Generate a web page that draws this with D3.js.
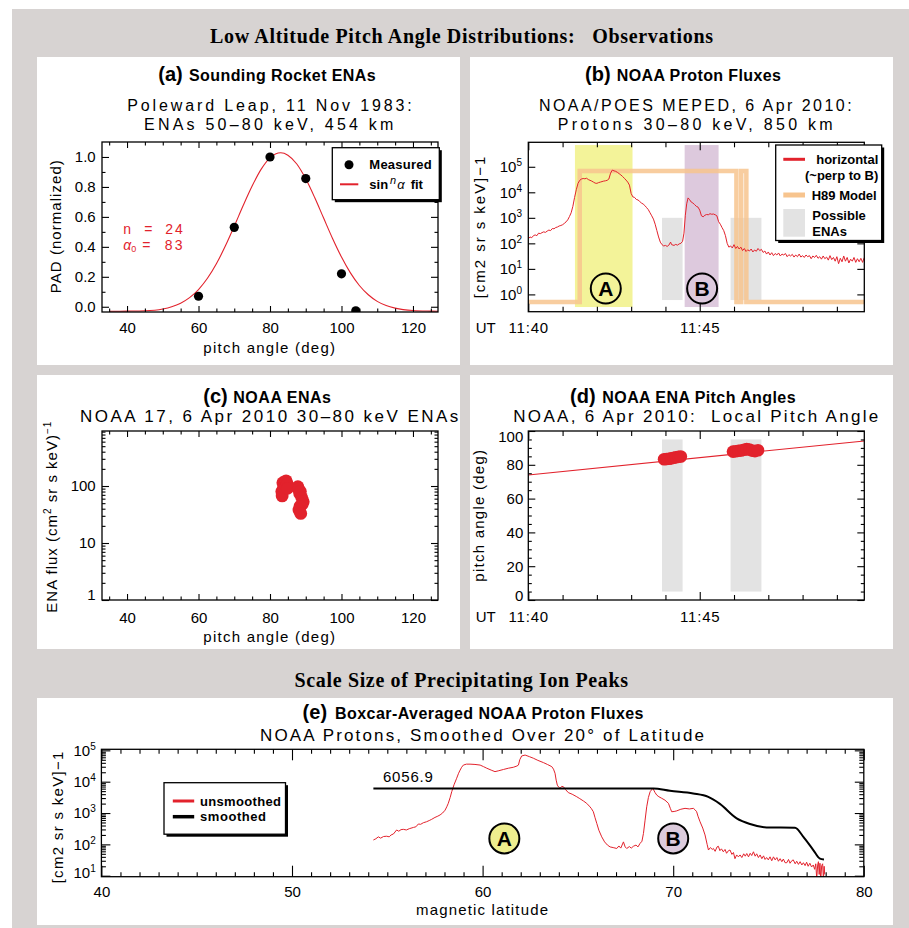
<!DOCTYPE html>
<html>
<head>
<meta charset="utf-8">
<title>Low Altitude Pitch Angle Distributions</title>
<script src="https://cdn.jsdelivr.net/npm/d3@7/dist/d3.min.js"></script>
<style>
  html, body { margin: 0; padding: 0; background: #fff; }
  svg { display: block; }
  text { white-space: pre; }
</style>
</head>
<body>
<svg id="fig" width="909" height="928"></svg>
<script>
// ---------- palette ----------
const SANS = "'Liberation Sans', Arial, Helvetica, sans-serif";
const SERIF = "'Liberation Serif', 'Times New Roman', serif";
const RED = '#e2222c';
const FRAME_BG = '#d7d3d2';
const YELLOW = '#f3f399';
const PURPLE = '#ddc9dd';
const ENA_GRAY = '#e3e3e3';
const H89_COLOR = '#f7c48e';

// ---------- (a) sounding rocket ENAs ----------
const rocketPitch = [60, 70, 80, 90, 100, 104];
const rocketPAD   = [0.07, 0.53, 1.00, 0.856, 0.22, -0.027];
const fitN = 24, fitAlpha0 = 83;
const fitPitch = [35, 40, 45, 50, 52.5, 55, 57.5, 60, 62.5, 65, 67.5, 70, 72.5, 75, 77.5, 80, 83, 85,
                  87.5, 90, 92.5, 95, 97.5, 100, 102.5, 105, 107.5, 110, 112.5, 115, 120, 125, 127];
const fitPAD   = [-0.030, -0.029, -0.027, -0.015, 0.000, 0.024, 0.061, 0.115, 0.190, 0.287, 0.405, 0.538,
                  0.676, 0.806, 0.917, 0.994, 1.028, 1.012, 0.953, 0.854, 0.729, 0.592, 0.456, 0.332,
                  0.226, 0.142, 0.080, 0.036, 0.008, -0.009, -0.025, -0.029, -0.030];
const pitchTicks = [40, 60, 80, 100, 120];
const pitchMinor = [35, 45, 50, 55, 65, 70, 75, 85, 90, 95, 105, 110, 115, 125];
const padTicks = [0, 0.2, 0.4, 0.6, 0.8, 1.0];
const padMinor = [0.1, 0.3, 0.5, 0.7, 0.9];

// ---------- (b) NOAA proton fluxes, minutes after 11:40 UT ----------
const utStart = Date.UTC(2010, 3, 6, 11, 40);
const utTicks = [0, 5];
const utMinor = [1, 2, 3, 4, 6, 7, 8, 9];
const fluxDecades = [1, 10, 100, 1e3, 1e4, 1e5];
const protonFluxB = [
  [0.00,150],[0.05,178],[0.10,166],[0.15,200],[0.20,214],[0.25,200],[0.30,251],[0.35,240],[0.40,263],
  [0.45,282],[0.50,269],[0.55,302],[0.60,331],[0.65,316],[0.70,380],[0.75,372],[0.80,417],[0.85,437],
  [0.90,479],[0.95,501],[1.00,537],[1.05,603],[1.10,692],[1.15,832],[1.20,1120],[1.25,1580],[1.30,2820],
  [1.35,6310],[1.40,12600],[1.45,22400],[1.50,29500],[1.55,33100],[1.60,34700],[1.65,33900],[1.70,35500],
  [1.75,31600],[1.80,29500],[1.85,27500],[1.90,25100],[1.95,22900],[2.00,22400],[2.05,24000],[2.10,25100],
  [2.15,26300],[2.20,27500],[2.25,28200],[2.30,29500],[2.35,33100],[2.40,56200],[2.45,74100],[2.50,69200],
  [2.55,66100],[2.60,60300],[2.65,53700],[2.70,47900],[2.75,41700],[2.80,35500],[2.85,30200],[2.90,25100],
  [2.95,19100],[3.00,8910],[3.05,6610],[3.10,6310],[3.15,5250],[3.20,5010],[3.25,4370],[3.30,3800],
  [3.35,3470],[3.40,3020],[3.45,2510],[3.50,2090],[3.55,1580],[3.60,1200],[3.65,891],[3.70,562],[3.75,316],
  [3.80,178],[3.85,112],[3.90,89],[3.95,79],[4.00,83],[4.05,76],[4.10,85],[4.15,112],[4.18,89],[4.25,83],
  [4.30,91],[4.35,85],[4.40,95],[4.45,100],[4.50,120],[4.54,251],[4.58,1260],[4.62,3550],[4.66,6030],
  [4.70,5250],[4.75,4170],[4.80,3800],[4.85,3310],[4.90,2820],[4.95,2630],[5.00,2000],[5.05,1200],
  [5.10,1100],[5.15,1260],[5.20,1350],[5.25,1320],[5.30,1450],[5.35,1380],[5.40,1410],[5.45,1320],
  [5.50,1200],[5.55,708],[5.60,562],[5.65,417],[5.70,316],[5.75,200],[5.80,100],[5.85,71],[5.90,79],
  [5.95,66],[6.00,89],[6.05,63],[6.10,76],[6.15,60],[6.20,71],[6.25,52],[6.30,63],[6.35,48],[6.40,56],
  [6.45,50],[6.50,60],[6.55,46],[6.60,55],[6.65,49],[6.70,63],[6.75,52],[6.80,58],[6.85,44],[6.90,50],
  [6.95,38],[7.00,46],[7.05,35],[7.10,43],[7.15,33],[7.20,40],[7.25,35],[7.30,42],[7.35,32],[7.40,38],
  [7.45,35],[7.50,40],[7.55,30],[7.60,36],[7.65,32],[7.70,37],[7.75,29],[7.80,35],[7.85,30],[7.90,38],
  [7.95,29],[8.00,33],[8.05,28],[8.10,35],[8.15,30],[8.20,33],[8.25,25],[8.30,32],[8.35,28],[8.40,34],
  [8.45,26],[8.50,30],[8.55,24],[8.60,32],[8.65,25],[8.70,29],[8.75,22],[8.80,33],[8.85,23],[8.90,28],
  [8.95,20],[9.00,30],[9.05,16],[9.10,26],[9.15,19],[9.20,32],[9.25,20],[9.30,28],[9.35,17],[9.40,24],
  [9.45,20],[9.50,28],[9.55,18],[9.60,25],[9.65,19],[9.70,26],[9.75,18],[9.80,28]
];
const h89Time = [0, 1.50, 1.50, 6.07, 6.07, 6.21, 6.21, 6.36, 6.36, 9.8];
const h89Flux = [0.5, 0.5, 6.9e4, 6.9e4, 0.5, 0.5, 6.9e4, 6.9e4, 0.5, 0.5];
const peakNames = ['A', 'B'];
const peakStart = [1.36, 4.56];
const peakEnd   = [3.04, 5.55];
const peakFill  = [YELLOW, PURPLE];
const peakLabelTime = [2.26, 5.07];
const enaWindowStart = [3.90, 5.90];
const enaWindowEnd   = [4.50, 6.80];

// ---------- (c)/(d) NOAA ENA samples ----------
const enaTime  = [3.96, 4.03, 4.10, 4.17, 4.24, 4.31, 4.38, 4.45,
                  5.97, 6.05, 6.13, 6.21, 6.29, 6.37, 6.45, 6.53, 6.61, 6.70];
const enaPitch = [83.3, 83.4, 83.6, 83.8, 84.2, 84.5, 84.8, 84.9,
                  87.8, 88.0, 88.3, 88.5, 88.9, 89.3, 89.0, 88.4, 88.1, 88.6];
const enaFlux  = [80, 67, 114, 95, 105, 123, 110, 91,
                  97, 88, 74, 80, 62, 53, 48, 44, 38, 33];
const enaFluxTicks = [1, 10, 100];
const localPitchTime = [0, 9.8];
const localPitch = [74, 94.1];
const pitchAxisTicks = [0, 20, 40, 60, 80, 100];
const pitchAxisMinor = [5, 10, 15, 25, 30, 35, 45, 50, 55, 65, 70, 75, 85, 90, 95];

// ---------- (e) boxcar-averaged fluxes vs magnetic latitude ----------
const latTicks = [40, 50, 60, 70, 80];
const latMinor = d3.range(41, 80).filter(v => v % 10 !== 0);
const eDecades = [10, 100, 1e3, 1e4, 1e5];
const unsmoothedE = [
  [54.27,138],[54.40,151],[54.53,174],[54.65,158],[54.80,178],[54.97,182],[55.10,174],[55.20,200],
  [55.32,214],[55.49,288],[55.60,263],[55.72,295],[55.84,302],[56.00,288],[56.15,316],[56.37,347],
  [56.50,363],[56.63,447],[56.75,437],[56.89,490],[57.05,525],[57.20,575],[57.33,631],[57.50,724],
  [57.65,794],[57.77,871],[57.90,1000],[58.03,1230],[58.12,1580],[58.20,2040],[58.30,3160],[58.38,4790],
  [58.50,7940],[58.64,12900],[58.74,18600],[58.82,23400],[58.90,28800],[58.99,33900],[59.15,36300],
  [59.34,36300],[59.60,35500],[59.87,33900],[60.05,30200],[60.22,26900],[60.45,23400],[60.65,20900],
  [60.85,22400],[61.09,24500],[61.35,26900],[61.61,28800],[61.80,31600],[61.88,33900],[61.95,50100],
  [62.05,66100],[62.23,70800],[62.45,63100],[62.66,56200],[62.90,47900],[63.19,40700],[63.40,35500],
  [63.63,30200],[63.72,25100],[63.80,18600],[63.86,11200],[63.92,7760],[64.00,6610],[64.06,6170],
  [64.15,7080],[64.24,6920],[64.35,5620],[64.50,4470],[64.70,3980],[64.94,3310],[65.10,2880],
  [65.30,2400],[65.46,2040],[65.60,1660],[65.70,1410],[65.81,1100],[65.90,708],[65.99,468],[66.10,282],
  [66.25,174],[66.40,120],[66.55,95],[66.69,83],[66.85,79],[67.04,74],[67.15,89],[67.25,76],[67.39,120],
  [67.48,83],[67.56,74],[67.70,85],[67.80,76],[67.91,87],[68.05,95],[68.15,83],[68.26,107],[68.36,126],
  [68.44,224],[68.52,562],[68.61,1580],[68.70,3160],[68.79,4790],[68.93,6170],[69.05,4470],[69.14,3720],
  [69.25,3310],[69.40,2950],[69.57,2570],[69.75,2040],[69.85,1410],[69.92,1100],[70.05,1120],[70.18,1170],
  [70.40,1320],[70.62,1410],[70.85,1350],[71.06,1410],[71.15,1260],[71.23,1100],[71.30,794],[71.41,525],
  [71.55,331],[71.67,200],[71.78,100],[71.85,66],[71.95,79],[72.05,69],[72.11,74],[72.20,60],[72.30,83],
  [72.37,87],[72.45,63],[72.53,72],[72.63,58],[72.72,69],[72.80,52],[72.90,63],[72.98,66],[73.08,48],
  [73.16,55],[73.24,35],[73.33,46],[73.42,40],[73.51,46],[73.60,38],[73.70,50],[73.78,42],[73.86,51],
  [73.95,40],[74.04,52],[74.12,44],[74.21,58],[74.30,42],[74.38,50],[74.47,38],[74.56,46],[74.65,35],
  [74.74,43],[74.82,33],[74.90,38],[74.99,32],[75.08,40],[75.17,30],[75.26,40],[75.35,32],[75.44,38],
  [75.52,29],[75.61,35],[75.70,28],[75.78,34],[75.87,26],[75.96,26],[76.05,33],[76.13,25],[76.22,30],
  [76.30,32],[76.40,24],[76.48,29],[76.57,23],[76.66,28],[76.75,22],[76.83,26],[76.92,21],[77.00,27],
  [77.08,20],[77.17,25],[77.26,19],[77.35,22],[77.42,16],[77.48,24],[77.53,8],[77.58,22],[77.62,28],
  [77.66,11],[77.70,25],[77.74,7],[77.79,21],[77.84,24],[77.88,8],[77.92,20],[77.95,11]
];
const smoothedE = [
  [54.27,6056.9],[68.96,6056.9],[69.83,5100],[71.05,4200],[71.84,3260],[72.45,1950],[73.33,676],
  [74.03,447],[74.90,347],[76.39,339],[76.83,174],[77.35,66],[77.70,35],[77.91,33]
];
const peakLabelLat = [61.14, 70.0];

// ---------- helpers ----------
const svg = d3.select('#fig');
const defs = svg.append('defs');

function txt(x, y, s, o = {}) {
  const t = svg.append('text').attr('x', x).attr('y', y)
    .attr('font-family', o.family || SANS).attr('font-size', o.size || 15)
    .attr('font-weight', o.weight || 'normal').attr('fill', o.fill || '#000')
    .attr('text-anchor', o.anchor || 'middle');
  if (o.rot) t.attr('transform', `rotate(-90,${x},${y})`);
  if (o.len) t.attr('textLength', o.len).attr('lengthAdjust', o.adjust || 'spacing');
  if (o.ls) t.attr('letter-spacing', o.ls);
  if (s != null) t.text(s);
  return t;
}

function clipFor(id, x, y) {
  const [x0, x1] = x.range(), [y0, y1] = y.range();
  defs.append('clipPath').attr('id', id).append('rect')
    .attr('x', x0).attr('y', y1).attr('width', x1 - x0).attr('height', y0 - y1);
  return `url(#${id})`;
}

function powLabels(sel) {
  sel.selectAll('.tick text').each(function (d) {
    const e = Math.round(Math.log10(d));
    const t = d3.select(this).text(null);
    t.append('tspan').text('10');
    t.append('tspan').attr('dy', -6).attr('font-size', 10).text(e);
  });
}

// inward ticks on all four sides plus a closed frame
function drawAxes(x, y, o) {
  const [xl, xr] = x.range(), [yb, yt] = y.range();
  const g = svg.append('g');
  function add(axisFn, scale, tr, vals, len, fmt, pad) {
    const a = axisFn(scale).tickValues(vals).tickSize(-len).tickSizeOuter(0)
      .tickPadding(pad || 0).tickFormat(fmt || (() => ''));
    const s = g.append('g').attr('transform', tr).call(a);
    s.select('.domain').remove();
    s.attr('font-family', SANS).attr('font-size', o.labelSize || 15);
    s.selectAll('line').attr('stroke', '#000').attr('stroke-width', 1.1);
    return s;
  }
  if (o.xMinor) {
    add(d3.axisBottom, x, `translate(0,${yb})`, o.xMinor, o.xMinLen);
    add(d3.axisTop, x, `translate(0,${yt})`, o.xMinor, o.xMinLen);
  }
  if (o.yMinor) {
    add(d3.axisLeft, y, `translate(${xl},0)`, o.yMinor, o.yMinLen);
    add(d3.axisRight, y, `translate(${xr},0)`, o.yMinor, o.yMinLen);
  }
  const bx = add(d3.axisBottom, x, `translate(0,${yb})`, o.xMajor, o.xMajLen, o.xFmt, o.xPad);
  add(d3.axisTop, x, `translate(0,${yt})`, o.xMajor, o.xMajLen);
  const ly = add(d3.axisLeft, y, `translate(${xl},0)`, o.yMajor, o.yMajLen, o.yFmt, o.yPad);
  add(d3.axisRight, y, `translate(${xr},0)`, o.yMajor, o.yMajLen);
  g.append('rect').attr('x', xl).attr('y', yt).attr('width', xr - xl).attr('height', yb - yt)
    .attr('fill', 'none').attr('stroke', '#000').attr('stroke-width', 1.3);
  return { bx, ly };
}

function legendBox(x, y, w, h) {
  svg.append('rect').attr('x', x + 2.5).attr('y', y + 2.5).attr('width', w).attr('height', h).attr('fill', '#000');
  svg.append('rect').attr('x', x).attr('y', y).attr('width', w).attr('height', h)
    .attr('fill', '#fff').attr('stroke', '#000').attr('stroke-width', 1.3);
}

function circled(cx, cy, letter, fill) {
  svg.append('circle').attr('cx', cx).attr('cy', cy).attr('r', 15)
    .attr('fill', fill || 'none').attr('stroke', '#000').attr('stroke-width', 2);
  txt(cx, cy + 7.5, letter, { size: 21, weight: 'bold' });
}

const utFmt = d => d3.utcFormat('%H:%M')(new Date(utStart + d * 60000));

// ---------- figure background ----------
svg.append('rect').attr('width', 909).attr('height', 928).attr('fill', '#fff');
svg.append('rect').attr('x', 12).attr('y', 9).attr('width', 897).attr('height', 919).attr('fill', FRAME_BG);
[[37, 57, 423, 308], [470, 57, 423, 308], [37, 375, 423, 274], [470, 375, 423, 274], [37, 698, 856, 227]]
  .forEach(([x, y, w, h]) => svg.append('rect').attr('x', x).attr('y', y).attr('width', w).attr('height', h).attr('fill', '#fff'));

txt(461.5, 43, 'Low Altitude Pitch Angle Distributions:   Observations', { family: SERIF, size: 20, weight: 'bold', len: 503 });
txt(461.3, 686.7, 'Scale Size of Precipitating Ion Peaks', { family: SERIF, size: 20, weight: 'bold', len: 333.5 });

function panelTitle(tag, rest, tagX, restX, restLen, y) {
  txt(tagX, y, tag, { anchor: 'start', size: 20, weight: 'bold' });
  txt(restX, y, rest, { anchor: 'start', size: 16, weight: 'bold', len: restLen });
}

// ================= (a) =================
{
  const x = d3.scaleLinear([33, 127], [102, 438]);
  const y = d3.scaleLinear([-0.035, 1.1], [312, 142]);
  const cp = clipFor('clipA', x, y);
  panelTitle('(a)', 'Sounding Rocket ENAs', 158.3, 189, 186.7, 81);
  txt(269.5, 111.3, 'Poleward Leap, 11 Nov 1983:', { size: 16, len: 284.4 });
  txt(268.7, 130, 'ENAs 50\u201380 keV, 454 km', { size: 16, len: 249.3 });

  const fit = d3.line().x(d => x(d[0])).y(d => y(d[1])).curve(d3.curveMonotoneX);
  svg.append('path').datum(d3.zip(fitPitch, fitPAD)).attr('d', fit).attr('clip-path', cp)
    .attr('fill', 'none').attr('stroke', RED).attr('stroke-width', 1.1);
  svg.append('g').attr('clip-path', cp).selectAll('circle').data(d3.zip(rocketPitch, rocketPAD)).join('circle')
    .attr('cx', d => x(d[0])).attr('cy', d => y(d[1])).attr('r', 4.6).attr('fill', '#000');

  drawAxes(x, y, {
    xMajor: pitchTicks, xMinor: pitchMinor, xMajLen: 6, xMinLen: 3.5, xFmt: d3.format('d'), xPad: 10.6,
    yMajor: padTicks, yMinor: padMinor, yMajLen: 7, yMinLen: 3.5, yFmt: d3.format('.1f'), yPad: 6.3
  });
  txt(269.2, 353, 'pitch angle (deg)', { len: 131.7 });
  txt(61.5, 226.7, 'PAD (normalized)', { rot: true, len: 133 });

  // fit parameters
  txt(123.3, 234, `n  =  ${fitN}`, { anchor: 'start', size: 14, fill: RED, len: 59.4 });
  const a0 = txt(123.3, 249.8, null, { anchor: 'start', size: 14, fill: RED });
  a0.append('tspan').attr('font-style', 'italic').text('\u03b1');
  a0.append('tspan').attr('dy', 2.5).attr('font-size', 9).text('0');
  a0.append('tspan').attr('dy', -2.5).attr('dx', 6).attr('letter-spacing', 2.2).text(`=  ${fitAlpha0}`);

  legendBox(332.3, 147.7, 107, 52);
  svg.append('circle').attr('cx', 349).attr('cy', 164.7).attr('r', 4.5).attr('fill', '#000');
  txt(369.3, 169.3, 'Measured', { anchor: 'start', size: 13, weight: 'bold', len: 62.4 });
  svg.append('line').attr('x1', 340).attr('x2', 358.3).attr('y1', 184.3).attr('y2', 184.3)
    .attr('stroke', RED).attr('stroke-width', 2);
  const s = txt(369.3, 188.6, null, { anchor: 'start', size: 13, weight: 'bold' });
  s.append('tspan').text('sin');
  s.append('tspan').attr('dx', 2).attr('dy', -5).attr('font-size', 11).attr('font-style', 'italic').attr('font-weight', 'normal').text('n');
  s.append('tspan').attr('dx', 1).attr('dy', 5).attr('font-style', 'italic').attr('font-weight', 'normal').text('\u03b1');
  s.append('tspan').attr('dx', 6).text('fit');
}

// ================= (b) =================
{
  const x = d3.scaleLinear([0, 9.8], [528.3, 864.3]);
  const y = d3.scaleLog([0.21, 9.1e5], [311.7, 142.3]);
  const cp = clipFor('clipB', x, y);
  panelTitle('(b)', 'NOAA Proton Fluxes', 585, 616.7, 164.3, 81);
  txt(695.3, 111.3, 'NOAA/POES MEPED, 6 Apr 2010:', { size: 16, len: 312.7 });
  txt(695.2, 130, 'Protons 30\u201380 keV, 850 km', { size: 16, len: 275 });

  const g = svg.append('g').attr('clip-path', cp);
  peakNames.forEach((nm, i) => {
    g.append('rect').attr('x', x(peakStart[i])).attr('width', x(peakEnd[i]) - x(peakStart[i]))
      .attr('y', y(7.1e5)).attr('height', y(0.32) - y(7.1e5)).attr('fill', peakFill[i]);
  });
  enaWindowStart.forEach((t0, i) => {
    g.append('rect').attr('x', x(t0)).attr('width', x(enaWindowEnd[i]) - x(t0))
      .attr('y', y(1000)).attr('height', y(0.6) - y(1000)).attr('fill', ENA_GRAY);
  });
  const ln = d3.line().x(d => x(d[0])).y(d => y(d[1]));
  g.append('path').datum(d3.zip(h89Time, h89Flux)).attr('d', ln)
    .attr('fill', 'none').attr('stroke', H89_COLOR).attr('stroke-opacity', 0.85).attr('stroke-width', 4.5);
  g.append('path').datum(protonFluxB).attr('d', ln)
    .attr('fill', 'none').attr('stroke', RED).attr('stroke-width', 1);

  const ax = drawAxes(x, y, {
    xMajor: utTicks, xMinor: utMinor, xMajLen: 8, xMinLen: 5, xFmt: utFmt, xPad: 11,
    yMajor: fluxDecades, yMajLen: 7, yFmt: d => d, yPad: 6.3
  });
  powLabels(ax.ly);
  ax.bx.selectAll('.tick text').attr('letter-spacing', 0.8);
  txt(475.7, 333.3, 'UT', { anchor: 'start' });
  txt(485, 227.5, '[cm2 sr s keV]\u22121', { rot: true, len: 141.7 });

  peakNames.forEach((nm, i) => circled(x(peakLabelTime[i]), y(1.7), nm));

  legendBox(775.7, 145, 106, 95.5);
  svg.append('line').attr('x1', 783.3).attr('x2', 805).attr('y1', 159.3).attr('y2', 159.3)
    .attr('stroke', RED).attr('stroke-width', 3);
  txt(878.3, 164.3, 'horizontal', { anchor: 'end', size: 13, weight: 'bold' });
  txt(878.3, 180, '(~perp to B)', { anchor: 'end', size: 13, weight: 'bold' });
  svg.append('line').attr('x1', 783.3).attr('x2', 805).attr('y1', 195).attr('y2', 195)
    .attr('stroke', H89_COLOR).attr('stroke-width', 5);
  txt(811.7, 200.2, 'H89 Model', { anchor: 'start', size: 13, weight: 'bold' });
  svg.append('rect').attr('x', 783.3).attr('y', 209).attr('width', 21.7).attr('height', 27.7).attr('fill', ENA_GRAY);
  txt(812.3, 219.8, 'Possible', { anchor: 'start', size: 13, weight: 'bold' });
  txt(812.3, 235.5, 'ENAs', { anchor: 'start', size: 13, weight: 'bold' });
}

// ================= (c) =================
{
  const x = d3.scaleLinear([33, 127], [102, 438]);
  const y = d3.scaleLog([1, 923], [600, 431]);
  const cp = clipFor('clipC', x, y);
  panelTitle('(c)', 'NOAA ENAs', 203.3, 233.3, 97.7, 402.7);
  txt(269.2, 422.3, 'NOAA 17, 6 Apr 2010 30\u201380 keV ENAs', { size: 17, len: 378.3 });

  svg.append('g').attr('clip-path', cp).selectAll('circle').data(d3.zip(enaPitch, enaFlux)).join('circle')
    .attr('cx', d => x(d[0])).attr('cy', d => y(d[1])).attr('r', 6.4).attr('fill', RED);

  const minor = y.ticks().filter(v => Math.abs(Math.log10(v) - Math.round(Math.log10(v))) > 1e-6);
  const ax = drawAxes(x, y, {
    xMajor: pitchTicks, xMinor: pitchMinor, xMajLen: 6, xMinLen: 3.5, xFmt: d3.format('d'), xPad: 12,
    yMajor: enaFluxTicks, yMinor: minor, yMajLen: 7, yMinLen: 3.5, yFmt: d3.format('d'), yPad: 6.3
  });
  ax.ly.selectAll('.tick text').filter(d => d === 1).attr('dy', '-0.05em');
  txt(269.2, 641.7, 'pitch angle (deg)', { len: 131.7 });
  const yl = txt(57, 516.7, null, { rot: true, ls: 1 });
  yl.append('tspan').text('ENA flux (cm');
  yl.append('tspan').attr('dy', -6).attr('font-size', 10).text('2');
  yl.append('tspan').attr('dy', 6).text(' sr s keV)');
  yl.append('tspan').attr('dy', -6).attr('font-size', 10).text('\u22121');
}

// ================= (d) =================
{
  const x = d3.scaleLinear([0, 9.8], [528.3, 864.3]);
  const y = d3.scaleLinear([0, 100], [600, 431]);
  const cp = clipFor('clipD', x, y);
  panelTitle('(d)', 'NOAA ENA Pitch Angles', 570, 602.3, 193.3, 402.7);
  txt(695.8, 422.3, 'NOAA, 6 Apr 2010:  Local Pitch Angle', { size: 17, len: 365 });

  const g = svg.append('g').attr('clip-path', cp);
  enaWindowStart.forEach((t0, i) => {
    g.append('rect').attr('x', x(t0)).attr('width', x(enaWindowEnd[i]) - x(t0))
      .attr('y', y(95)).attr('height', y(5) - y(95)).attr('fill', ENA_GRAY);
  });
  g.append('path').datum(d3.zip(localPitchTime, localPitch))
    .attr('d', d3.line().x(d => x(d[0])).y(d => y(d[1])))
    .attr('fill', 'none').attr('stroke', RED).attr('stroke-width', 1.1);
  g.selectAll('circle').data(d3.zip(enaTime, enaPitch)).join('circle')
    .attr('cx', d => x(d[0])).attr('cy', d => y(d[1])).attr('r', 6.3).attr('fill', RED);

  const ax = drawAxes(x, y, {
    xMajor: utTicks, xMinor: utMinor, xMajLen: 8, xMinLen: 5, xFmt: utFmt, xPad: 11.7,
    yMajor: pitchAxisTicks, yMinor: pitchAxisMinor, yMajLen: 7, yMinLen: 3.5, yFmt: d3.format('d'), yPad: 5
  });
  ax.bx.selectAll('.tick text').attr('letter-spacing', 0.8);
  ax.ly.selectAll('.tick text').filter(d => d === 0).attr('dy', '0.05em');
  ax.ly.selectAll('.tick text').filter(d => d === 100).attr('dy', '0.7em');
  txt(475.7, 622.3, 'UT', { anchor: 'start' });
  txt(484, 515.8, 'pitch angle (deg)', { rot: true, len: 131.7 });
}

// ================= (e) =================
{
  const x = d3.scaleLinear([40, 80], [101.4, 863.8]);
  const y = d3.scaleLog([9.3, 1.08e5], [876.7, 749.3]);
  const cp = clipFor('clipE', x, y);
  panelTitle('(e)', 'Boxcar-Averaged NOAA Proton Fluxes', 302.6, 335, 308.5, 719.3);
  txt(482, 741, 'NOAA Protons, Smoothed Over 20\u00b0 of Latitude', { size: 17, len: 444 });

  const g = svg.append('g').attr('clip-path', cp);
  const ln = d3.line().x(d => x(d[0])).y(d => y(d[1]));
  g.append('path').datum(unsmoothedE).attr('d', ln)
    .attr('fill', 'none').attr('stroke', RED).attr('stroke-width', 1);
  g.append('path').datum(smoothedE).attr('d', ln.curve(d3.curveMonotoneX))
    .attr('fill', 'none').attr('stroke', '#000').attr('stroke-width', 2);

  const minor = y.ticks().filter(v => Math.abs(Math.log10(v) - Math.round(Math.log10(v))) > 1e-6);
  const ax = drawAxes(x, y, {
    xMajor: latTicks, xMinor: latMinor, xMajLen: 11, xMinLen: 4.5, xFmt: d3.format('d'), xPad: 10,
    yMajor: eDecades, yMinor: minor, yMajLen: 9, yMinLen: 4.5, yFmt: d => d, yPad: 5.7
  });
  powLabels(ax.ly);
  ax.ly.selectAll('.tick text').filter(d => d === 10).attr('dy', '0.1em');

  txt(x(smoothedE[0][0]) + 9.5, 782, d3.format('.1f')(smoothedE[0][1]), { anchor: 'start', len: 50 });
  txt(482, 915, 'magnetic latitude', { len: 132 });
  txt(63, 817.5, '[cm2 sr s keV]\u22121', { rot: true, len: 131.7 });

  peakNames.forEach((nm, i) => circled(x(peakLabelLat[i]), y(155), nm, i === 0 ? '#eeee8e' : '#dccbdc'));

  legendBox(164, 782.7, 121.5, 51.5);
  svg.append('line').attr('x1', 172.8).attr('x2', 194.2).attr('y1', 801).attr('y2', 801)
    .attr('stroke', RED).attr('stroke-width', 3);
  txt(200, 805.5, 'unsmoothed', { anchor: 'start', size: 13, weight: 'bold', len: 81 });
  svg.append('line').attr('x1', 172.8).attr('x2', 194.2).attr('y1', 816.7).attr('y2', 816.7)
    .attr('stroke', '#000').attr('stroke-width', 3.5);
  txt(200, 821.2, 'smoothed', { anchor: 'start', size: 13, weight: 'bold', len: 66 });
}
</script>
</body>
</html>
